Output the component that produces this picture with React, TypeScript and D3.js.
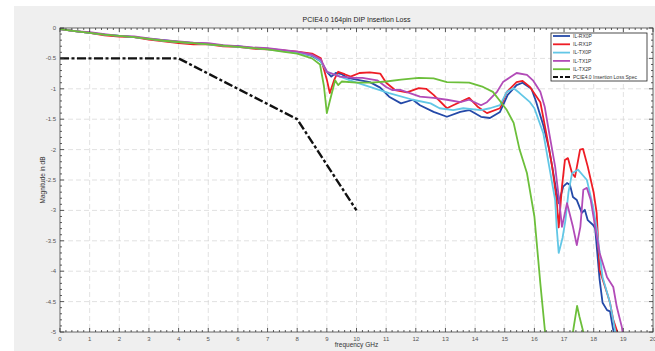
import React from "react";
import * as d3 from "d3";

// Insertion loss traces: [frequency GHz, magnitude dB]
const rx0p: [number, number][] = [
  [0, -0.02], [0.5, -0.05], [1, -0.08], [1.5, -0.11], [2, -0.13], [2.5, -0.15], [3, -0.18],
  [3.5, -0.2], [4, -0.23], [4.5, -0.25], [5, -0.26], [5.5, -0.29], [6, -0.3], [6.5, -0.33],
  [7, -0.34], [7.5, -0.37], [8, -0.4], [8.5, -0.46], [8.8, -0.55], [9.0, -0.72], [9.15, -0.8],
  [9.3, -0.74], [9.5, -0.76], [9.7, -0.82], [10, -0.85], [10.45, -0.89], [10.8, -0.98],
  [11.1, -1.13], [11.5, -1.24], [11.9, -1.18], [12.14, -1.27], [12.6, -1.38], [13.05, -1.46],
  [13.5, -1.38], [13.8, -1.35], [14.2, -1.46], [14.5, -1.48], [14.84, -1.38], [15.1, -1.1],
  [15.4, -0.94], [15.6, -0.9], [15.9, -1.0], [16.05, -1.2], [16.3, -1.6], [16.5, -2.0],
  [16.6, -2.28], [16.75, -2.71], [16.82, -2.88], [16.97, -2.61], [17.1, -2.55], [17.2, -2.58],
  [17.3, -2.78], [17.43, -2.83], [17.6, -3.04], [17.7, -2.99], [17.8, -3.16], [17.98, -3.24],
  [18.05, -3.3], [18.2, -4.14], [18.3, -4.52], [18.45, -4.64], [18.55, -4.66], [18.66, -4.97],
  [18.72, -5.1],
];

const rx1p: [number, number][] = [
  [0, -0.02], [0.5, -0.05], [1, -0.08], [1.5, -0.12], [2, -0.14], [2.5, -0.15], [3, -0.19],
  [3.5, -0.22], [4, -0.25], [4.5, -0.27], [5, -0.27], [5.5, -0.3], [6, -0.31], [6.5, -0.34],
  [7, -0.35], [7.5, -0.37], [8, -0.39], [8.5, -0.42], [8.8, -0.5], [9.0, -0.85], [9.1, -1.07],
  [9.25, -0.85], [9.38, -0.72], [9.6, -0.76], [9.8, -0.8], [10.1, -0.74], [10.45, -0.73],
  [10.8, -0.75], [11.0, -0.9], [11.3, -1.02], [11.7, -1.06], [12.1, -0.99], [12.35, -1.0],
  [12.6, -1.1], [13.05, -1.32], [13.26, -1.27], [13.8, -1.15], [14.1, -1.3], [14.4, -1.4],
  [14.84, -1.32], [15.07, -1.05], [15.4, -0.89], [15.6, -0.87], [15.85, -0.97], [16.2, -1.22],
  [16.4, -1.73], [16.6, -2.28], [16.75, -2.83], [16.82, -3.28], [16.93, -2.61], [17.03, -2.17],
  [17.13, -2.14], [17.27, -2.39], [17.37, -2.45], [17.54, -2.0], [17.64, -1.99], [17.8, -2.28],
  [18.0, -2.71], [18.1, -3.04], [18.2, -3.98], [18.45, -4.36], [18.55, -4.52], [18.66, -4.8],
  [18.78, -4.97], [18.85, -5.1],
];

const tx0p: [number, number][] = [
  [0, -0.02], [0.5, -0.05], [1, -0.08], [1.5, -0.11], [2, -0.13], [2.5, -0.15], [3, -0.18],
  [3.5, -0.21], [4, -0.23], [4.5, -0.25], [5, -0.27], [5.5, -0.29], [6, -0.31], [6.5, -0.33],
  [7, -0.35], [7.5, -0.38], [8, -0.41], [8.5, -0.45], [8.8, -0.55], [9.0, -0.72], [9.3, -0.77],
  [9.78, -0.86], [10.45, -0.97], [11.1, -1.07], [11.9, -1.18], [12.5, -1.24], [12.8, -1.32],
  [13.26, -1.35], [13.6, -1.32], [14.2, -1.35], [14.5, -1.32], [14.84, -1.27], [15.07, -1.05],
  [15.3, -0.99], [15.5, -1.07], [15.85, -1.22], [16.0, -1.32], [16.3, -1.73], [16.5, -2.28],
  [16.7, -2.83], [16.75, -3.27], [16.82, -3.7], [16.95, -3.45], [17.05, -3.15], [17.15, -2.7],
  [17.27, -2.39], [17.47, -2.33], [17.77, -2.5], [17.98, -2.94], [18.1, -3.3], [18.3, -4.1],
  [18.55, -4.52], [18.72, -4.97], [18.8, -5.1],
];

const tx1p: [number, number][] = [
  [0, -0.02], [0.5, -0.05], [1, -0.07], [1.5, -0.1], [2, -0.13], [2.5, -0.14], [3, -0.17],
  [3.5, -0.2], [4, -0.22], [4.5, -0.24], [5, -0.25], [5.5, -0.28], [6, -0.3], [6.5, -0.32],
  [7, -0.33], [7.5, -0.36], [8, -0.39], [8.5, -0.44], [8.8, -0.52], [9.0, -0.72], [9.44, -0.8],
  [9.9, -0.82], [10.2, -0.82], [10.7, -0.86], [11.0, -0.97], [11.2, -1.02], [11.5, -1.02],
  [11.8, -1.07], [12.14, -1.13], [12.6, -1.15], [13.05, -1.18], [13.5, -1.22], [13.8, -1.18],
  [14.2, -1.27], [14.4, -1.22], [14.74, -1.05], [14.94, -0.89], [15.18, -0.81], [15.4, -0.74],
  [15.75, -0.77], [15.95, -0.86], [16.2, -1.05], [16.35, -1.3], [16.5, -1.73], [16.7, -2.28],
  [16.85, -2.9], [16.93, -3.27], [17.1, -2.88], [17.3, -3.27], [17.43, -3.57], [17.55, -3.27],
  [17.65, -2.66], [17.77, -2.63], [17.9, -2.83], [18.05, -3.27], [18.2, -3.7], [18.45, -4.1],
  [18.66, -4.26], [18.78, -4.59], [18.95, -4.92], [19.0, -5.1],
];

const tx2p: [number, number][] = [
  [0, -0.02], [0.5, -0.05], [1, -0.08], [1.5, -0.11], [2, -0.13], [2.5, -0.15], [3, -0.18],
  [3.5, -0.21], [4, -0.23], [4.5, -0.25], [5, -0.27], [5.5, -0.29], [6, -0.31], [6.5, -0.33],
  [7, -0.35], [7.5, -0.39], [8, -0.42], [8.5, -0.5], [8.77, -0.6], [8.9, -0.95], [9.0, -1.4],
  [9.1, -1.2], [9.28, -0.86], [9.38, -0.94], [9.5, -0.88], [10, -0.9], [10.5, -0.9], [11, -0.88],
  [11.5, -0.85], [12.1, -0.82], [12.6, -0.83], [13.05, -0.89], [13.8, -0.9], [14.27, -0.97],
  [14.6, -1.05], [14.84, -1.2], [15.07, -1.35], [15.3, -1.56], [15.5, -2.0], [15.75, -2.39],
  [16.0, -3.1], [16.2, -4.2], [16.36, -5.0], [16.45, -5.5], [17.2, -5.5], [17.3, -5.0],
  [17.44, -4.57], [17.52, -4.75], [17.65, -5.0], [17.75, -5.5],
];

// PCIe 4.0 insertion loss limit
const spec: [number, number][] = [[0, -0.5], [4, -0.5], [8, -1.5], [10, -3]];

const seriesNames = ["IL-RX0P", "IL-RX1P", "IL-TX0P", "IL-TX1P", "IL-TX2P"];
const seriesData = [rx0p, rx1p, tx0p, tx1p, tx2p];
const seriesColors = ["#2449a8", "#ee1d25", "#62c7e6", "#b24bb8", "#6cbf3a"];
const specName = "PCIE4.0 Insertion Loss Spec";

const xTicks = d3.range(0, 21, 1);
const yTicks = d3.range(0, -5.01, -0.5).map((v) => +v.toFixed(1));

export default function App() {
  const W = 655;
  const H = 351;
  const L = 60, R = 653, T = 28, B = 332;
  const x = d3.scaleLinear().domain([0, 20]).range([L, R]);
  const y = d3.scaleLinear().domain([-5, 0]).range([B, T]);
  const line = d3
    .line<[number, number]>()
    .x((d) => x(d[0]))
    .y((d) => y(d[1]));

  const xMinor = d3.range(0, 20.001, 0.2).filter((v) => Math.abs(v - Math.round(v)) > 1e-6);
  const yMinor = d3.range(0, -5.001, -0.1).filter((v) => Math.abs(v * 2 - Math.round(v * 2)) > 1e-6);

  const tickFont = { fontFamily: "Liberation Sans, Arial, sans-serif", fontSize: 6, fill: "#555" };
  const legX = 551, legY = 33, legW = 96, legH = 48;

  return (
    <svg width={W} height={H} style={{ position: "absolute", left: 0, top: 0 }}>
      <rect x={0} y={0} width={W} height={H} fill="#fff" />
      <rect x={14} y={6} width={W - 14} height={H - 6} fill="#efefef" />
      <rect x={L} y={T} width={R - L} height={B - T} fill="#fff" />

      {/* grid */}
      <g stroke="#d4d4d4" strokeWidth={0.7} strokeDasharray="5,3">
        {xTicks.slice(1, -1).map((t) => (
          <line key={"gx" + t} x1={x(t)} x2={x(t)} y1={T} y2={B} />
        ))}
        {yTicks.slice(1, -1).map((t) => (
          <line key={"gy" + t} x1={L} x2={R} y1={y(t)} y2={y(t)} />
        ))}
      </g>

      <defs>
        <clipPath id="plotClip">
          <rect x={L} y={T} width={R - L} height={B - T} />
        </clipPath>
      </defs>

      <g clipPath="url(#plotClip)">
        <path
          d={line(spec) || ""}
          fill="none"
          stroke="#111"
          strokeWidth={2.4}
          strokeDasharray="9,2.5,3,2.5"
        />
        {seriesData.map((s, i) => (
          <path
            key={seriesNames[i]}
            d={line(s) || ""}
            fill="none"
            stroke={seriesColors[i]}
            strokeWidth={1.8}
            strokeLinejoin="round"
          />
        ))}
      </g>

      {/* axes box and ticks */}
      <rect x={L} y={T} width={R - L} height={B - T} fill="none" stroke="#444" strokeWidth={0.8} />
      <g stroke="#333" strokeWidth={0.8}>
        {xTicks.map((t) => (
          <g key={"xt" + t}>
            <line x1={x(t)} x2={x(t)} y1={B} y2={B - 4} />
            <line x1={x(t)} x2={x(t)} y1={T} y2={T + 4} />
          </g>
        ))}
        {xMinor.map((t, i) => (
          <g key={"xm" + i}>
            <line x1={x(t)} x2={x(t)} y1={B} y2={B - 2} />
            <line x1={x(t)} x2={x(t)} y1={T} y2={T + 2} />
          </g>
        ))}
        {yTicks.map((t) => (
          <g key={"yt" + t}>
            <line x1={L} x2={L + 4} y1={y(t)} y2={y(t)} />
            <line x1={R} x2={R - 4} y1={y(t)} y2={y(t)} />
          </g>
        ))}
        {yMinor.map((t, i) => (
          <g key={"ym" + i}>
            <line x1={L} x2={L + 2} y1={y(t)} y2={y(t)} />
            <line x1={R} x2={R - 2} y1={y(t)} y2={y(t)} />
          </g>
        ))}
      </g>

      {xTicks.map((t) => (
        <text key={"xl" + t} x={x(t)} y={B + 9} textAnchor="middle" {...tickFont}>
          {t}
        </text>
      ))}
      {yTicks.map((t) => (
        <text key={"yl" + t} x={L - 4} y={y(t) + 2} textAnchor="end" {...tickFont}>
          {t}
        </text>
      ))}

      <text
        x={(L + R) / 2}
        y={22}
        textAnchor="middle"
        fontFamily="Liberation Sans, Arial, sans-serif"
        fontSize={7}
        fill="#222"
      >
        PCIE4.0 164pin DIP Insertion Loss
      </text>
      <text
        x={(L + R) / 2}
        y={347}
        textAnchor="middle"
        fontFamily="Liberation Sans, Arial, sans-serif"
        fontSize={6.5}
        fill="#333"
      >
        frequency GHz
      </text>
      <text
        transform={`translate(45,${(T + B) / 2}) rotate(-90)`}
        textAnchor="middle"
        fontFamily="Liberation Sans, Arial, sans-serif"
        fontSize={6.5}
        fill="#333"
      >
        Magnitude in dB
      </text>

      {/* legend */}
      <rect x={legX} y={legY} width={legW} height={legH} fill="#fff" stroke="#222" strokeWidth={0.8} />
      {seriesNames.map((n, i) => (
        <g key={"lg" + n}>
          <line
            x1={553}
            x2={570}
            y1={36 + i * 8.3}
            y2={36 + i * 8.3}
            stroke={seriesColors[i]}
            strokeWidth={1.8}
          />
          <text x={573} y={36 + i * 8.3 + 1.8} fontFamily="Liberation Sans, Arial, sans-serif" fontSize={5} fill="#333">
            {n}
          </text>
        </g>
      ))}
      <line x1={553} x2={570} y1={77} y2={77} stroke="#111" strokeWidth={2} strokeDasharray="5,2,3,2" />
      <text x={573} y={78.8} fontFamily="Liberation Sans, Arial, sans-serif" fontSize={5} fill="#333">
        {specName}
      </text>
    </svg>
  );
}
